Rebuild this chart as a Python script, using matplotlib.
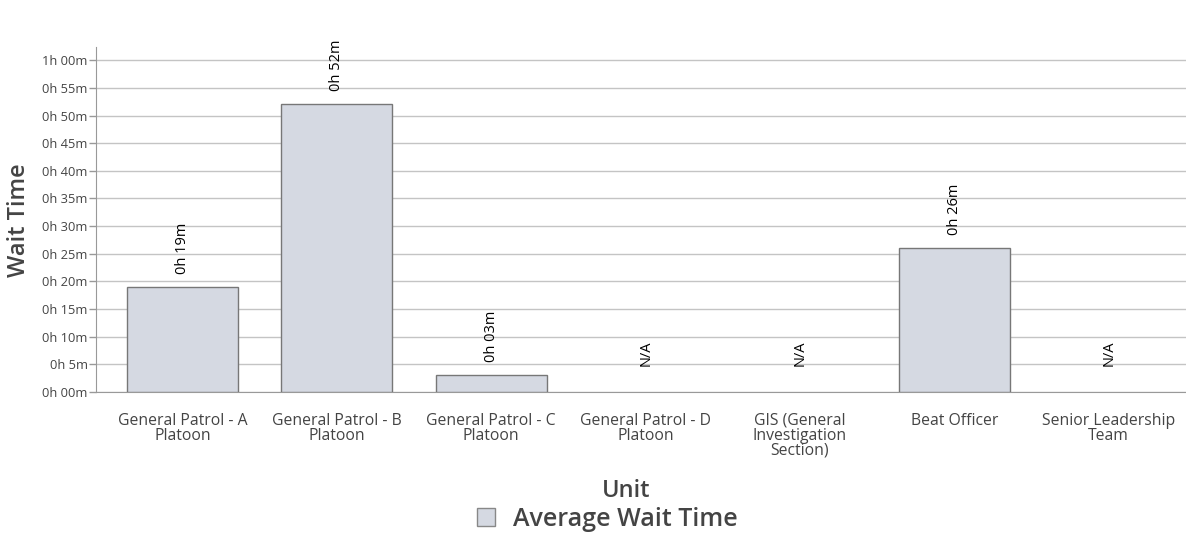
import numpy as np
import matplotlib
matplotlib.use("Agg")
import matplotlib.pyplot as plt
from matplotlib.patches import Patch

plt.rcParams['font.family'] = ['Open Sans', 'DejaVu Sans']

units = ["General Patrol - A\nPlatoon", "General Patrol - B\nPlatoon", "General Patrol - C\nPlatoon",
         "General Patrol - D\nPlatoon", "GIS (General\nInvestigation\nSection)", "Beat Officer",
         "Senior Leadership\nTeam"]
wait_minutes = [19, 52, 3, np.nan, np.nan, 26, np.nan]
tick_vals = list(range(0, 61, 5))
tick_labels = ["0h 00m", "0h 5m", "0h 10m", "0h 15m", "0h 20m", "0h 25m", "0h 30m",
               "0h 35m", "0h 40m", "0h 45m", "0h 50m", "0h 55m", "1h 00m"]

txt = "#444444"
fig = plt.figure(figsize=(11.86, 5.34), dpi=100)
ax = fig.add_axes([0.081, 0.266, 0.919, 0.646])

x = np.arange(len(units))
vals = np.array(wait_minutes, dtype=float)
ok = ~np.isnan(vals)
ax.bar(x[ok], vals[ok], width=0.72, color="#d5d9e2", edgecolor="#777777", linewidth=1, zorder=3)

# value labels above bars, N/A where there is no data
for xi, v in zip(x, wait_minutes):
    if np.isnan(v):
        lab, y, off = "N/A", 0, 26
    else:
        lab, y, off = "0h %02dm" % v, v, 13
    ax.annotate(lab, (xi, y), xytext=(0, off), textcoords="offset pixels",
                rotation=90, ha="center", va="bottom", fontsize=10.5, color="black", zorder=4)

ax.set_xlim(-0.56, 6.5)
ax.set_ylim(0, 62.4)
ax.set_yticks(tick_vals)
ax.set_yticklabels(tick_labels, fontsize=9.3, color=txt)
ax.set_xticks(x)
ax.set_xticklabels(units, fontsize=11.3, color=txt, linespacing=0.9)
ax.tick_params(axis="x", length=0, pad=15)
ax.tick_params(axis="y", length=5, color="#999999", width=1, pad=1)
ax.grid(axis="y", color="#c4c4c4", linewidth=1, zorder=0)
for s in ["top", "right"]:
    ax.spines[s].set_visible(False)
ax.spines["left"].set_color("#999999")
ax.spines["bottom"].set_color("#999999")

fig.text(0.016, 0.588, "Wait Time", fontsize=17, color=txt, weight="semibold",
         rotation=90, ha="center", va="center")
fig.text(0.528, 0.08, "Unit", fontsize=17, color=txt, weight="semibold", ha="center", va="center")
fig.legend(handles=[Patch(facecolor="#d5d9e2", edgecolor="#888888", label="Average Wait Time")],
           loc="center", bbox_to_anchor=(0.512, 0.028), frameon=False,
           labelcolor=txt, handlelength=0.75, handleheight=0.75, handletextpad=0.7,
           prop={"weight": "semibold", "size": 18})

fig.savefig("out.png", dpi=100)
